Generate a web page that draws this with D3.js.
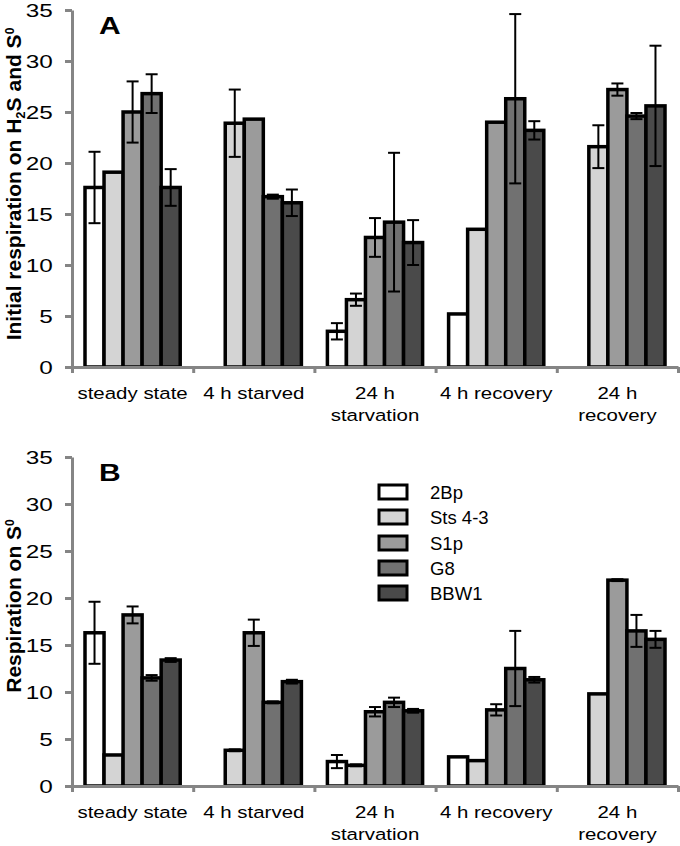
<!DOCTYPE html>
<html><head><meta charset="utf-8">
<script src="https://cdn.jsdelivr.net/npm/d3@7"></script>
<style>body{margin:0;background:#fff}svg{display:block;font-family:"Liberation Sans",Arial,sans-serif}</style>
</head><body><svg id="c" width="680" height="846"></svg>
<script>
const categories = [["steady state"],["4 h starved"],["24 h","starvation"],["4 h recovery"],["24 h","recovery"]];
const series = ["2Bp","Sts 4-3","S1p","G8","BBW1"];
const colors = ["#ffffff","#d4d4d4","#9b9b9b","#717171","#4a4a4a"];
const yTicks = [0,5,10,15,20,25,30,35];

const valuesA = [
  [17.6, 0, 3.5, 5.2, 0],
  [19.1, 23.9, 6.6, 13.5, 21.6],
  [25.0, 24.3, 12.7, 24.0, 27.2],
  [26.8, 16.7, 14.2, 26.3, 24.6],
  [17.6, 16.1, 12.2, 23.2, 25.6]
];
const errorsA = [
  [3.5, 0, 0.8, 0, 0],
  [0, 3.3, 0.6, 0, 2.1],
  [3.0, 0, 1.9, 0, 0.6],
  [1.9, 0.2, 6.8, 8.3, 0.3],
  [1.8, 1.3, 2.2, 0.9, 5.9]
];
const valuesB = [
  [16.3, 0, 2.6, 3.1, 0],
  [3.3, 3.8, 2.2, 2.7, 9.8],
  [18.2, 16.3, 7.9, 8.1, 21.9],
  [11.5, 8.9, 8.9, 12.5, 16.5],
  [13.4, 11.1, 8.0, 11.3, 15.6]
];
const errorsB = [
  [3.3, 0, 0.7, 0, 0],
  [0, 0.1, 0.1, 0, 0],
  [0.9, 1.4, 0.5, 0.6, 0.1],
  [0.3, 0.1, 0.5, 4.0, 1.7],
  [0.2, 0.2, 0.2, 0.3, 0.9]
];

const svg = d3.select("#c");
const AXIS = "#858585";
const x0 = d3.scaleBand().domain(d3.range(categories.length)).range([72, 678]).padding(0);
const x1 = d3.scaleBand().domain(d3.range(series.length)).range([13, x0.bandwidth()-13]).padding(0);
const xb = d3.scaleLinear().domain([0, categories.length]).range([72, 678]);

function panel(values, errors, top, bottom, letter, titleParts, titleY, labelY) {
  const y = d3.scaleLinear().domain([0,35]).range([bottom, top]);
  const g = svg.append("g");
  series.forEach((s, si) => {
    g.selectAll(null).data(values[si].map((v,ci)=>({v,ci})).filter(d => d.v > 0)).join("rect")
      .attr("x", d => x0(d.ci) + x1(si))
      .attr("y", d => y(d.v))
      .attr("width", x1.bandwidth())
      .attr("height", d => y(0) - y(d.v))
      .attr("fill", colors[si]).attr("stroke", "#000").attr("stroke-width", 3.5);
  });
  series.forEach((s, si) => {
    const data = values[si].map((v,ci)=>({v,ci,e:errors[si][ci]})).filter(d => d.e > 0 && d.v > 0);
    data.forEach(d => {
      const cx = x0(d.ci) + x1(si) + x1.bandwidth()/2;
      const y1 = y(d.v + d.e), y2 = y(Math.max(0, d.v - d.e));
      g.append("line").attr("x1",cx).attr("x2",cx).attr("y1",y1).attr("y2",y2).attr("stroke","#000").attr("stroke-width",2);
      [y1,y2].forEach(yy => g.append("line").attr("x1",cx-6).attr("x2",cx+6).attr("y1",yy).attr("y2",yy).attr("stroke","#000").attr("stroke-width",2));
    });
  });
  const ya = g.append("g").attr("transform","translate(72,0)")
    .call(d3.axisLeft(y).tickValues(yTicks).tickSize(7).tickSizeOuter(0).tickPadding(8));
  ya.select(".domain").attr("stroke", AXIS).attr("stroke-width", 3);
  ya.selectAll(".tick line").attr("stroke", AXIS).attr("stroke-width", 3);
  ya.selectAll(".tick text").attr("font-size", 19).attr("fill","#000")
    .attr("font-family",'"Liberation Sans",Arial,sans-serif').attr("transform","scale(1.28,1)");
  const xa = g.append("g").attr("transform",`translate(0,${bottom})`)
    .call(d3.axisBottom(xb).tickValues(d3.range(categories.length+1)).tickSize(6).tickSizeOuter(0).tickFormat(""));
  xa.select(".domain").attr("stroke", AXIS).attr("stroke-width", 3);
  xa.selectAll(".tick line").attr("stroke", AXIS).attr("stroke-width", 3);
  categories.forEach((lines, ci) => {
    const cx = x0(ci) + x0.bandwidth()/2;
    lines.forEach((ln, li) => {
      g.append("text").attr("transform", `translate(${cx},${labelY + li*22}) scale(1.24,1)`)
        .attr("text-anchor","middle").attr("font-size",16.5).attr("fill","#000").text(ln);
    });
  });
  g.append("text").attr("transform", `translate(99,${top + 24}) scale(1.25,1)`)
    .attr("font-size", 24).attr("font-weight","bold").text(letter);
  const tt = g.append("text").attr("transform", `translate(21,${titleY}) rotate(-90)`).attr("text-anchor","middle")
    .attr("font-size",21).attr("font-weight","bold").attr("fill","#000");
  titleParts.forEach(p => {
    const sp = tt.append("tspan").text(p.t);
    if (p.sub) sp.attr("font-size",13).attr("dy",4);
    if (p.sup) sp.attr("font-size",12).attr("dy",-7);
    if (p.reset) sp.attr("dy", p.reset);
  });
  return y;
}

panel(valuesA, errorsA, 10, 367, "A",
  [{t:"Initial respiration on H"},{t:"2",sub:true},{t:"S and S",reset:-4},{t:"0",sup:true}], 184, 399);
panel(valuesB, errorsB, 457, 786, "B",
  [{t:"Respiration on S"},{t:"0",sup:true}], 606, 818);

const lg = svg.append("g");
const legY = [492, 517, 543, 568, 593];
series.forEach((s, i) => {
  lg.append("rect").attr("x", 379).attr("y", legY[i]-7).attr("width", 28).attr("height", 14)
    .attr("fill", colors[i]).attr("stroke","#000").attr("stroke-width",3);
  lg.append("text").attr("x", 430).attr("y", legY[i]+7).attr("font-size",18.5).attr("fill","#000").text(s);
});
</script></body></html>
